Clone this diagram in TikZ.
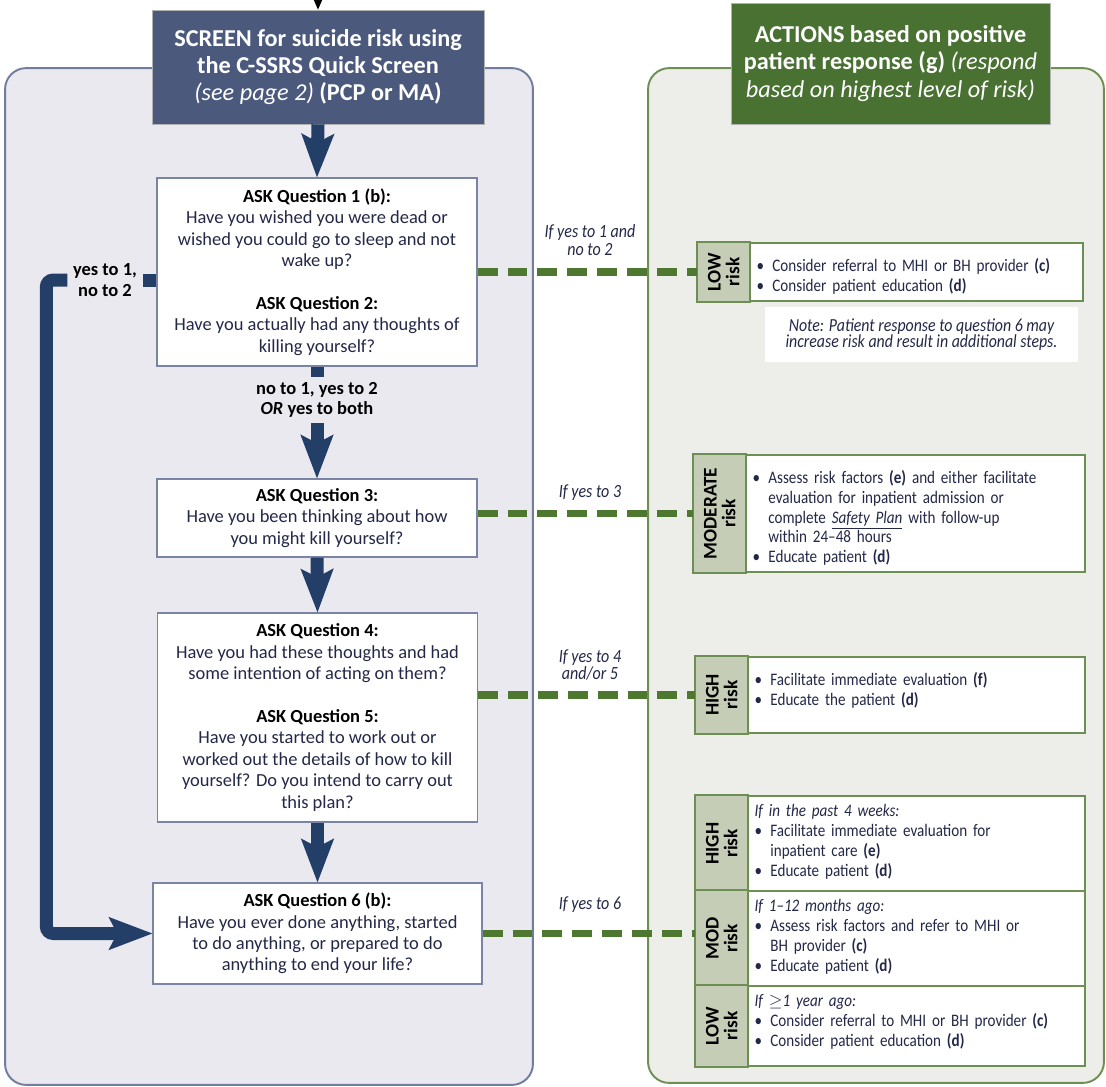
\documentclass[tikz,border=0pt]{standalone}
\usepackage{fontspec}
\setmainfont{Carlito}
\newfontfamily\narrowfont{Carlito}[FakeStretch=0.86, Ligatures=TeX]
\usepackage{tikz}
\usetikzlibrary{arrows.meta, positioning, calc}
\usepackage{xcolor}

\definecolor{screenblue}{RGB}{75,89,125}
\definecolor{flowblue}{RGB}{36,63,103}
\definecolor{panelgray}{RGB}{233,233,239}
\definecolor{panelline}{RGB}{112,125,158}
\definecolor{boxline}{RGB}{122,133,165}
\definecolor{actiongreen}{RGB}{73,113,50}
\definecolor{panelbeige}{RGB}{237,237,233}
\definecolor{greenline}{RGB}{110,143,84}
\definecolor{dashgreen}{RGB}{78,120,47}
\definecolor{riskgray}{RGB}{198,205,183}
\definecolor{textnavy}{RGB}{36,40,72}

\newcommand{\askq}[1]{{\color{black}\bfseries #1}}
\newcommand{\bul}[1]{\par\hangindent=9pt\noindent\hbox to 9pt{\textbullet\hss}#1}

\begin{document}
\begin{tikzpicture}[x=0.02cm, y=-0.02cm, >=Stealth,
  every node/.style={font=\fontsize{10.5}{12.2}\selectfont},
  panel/.style={line width=1.1pt, rounded corners=12pt},
  header/.style={draw=gray!60, text=white, align=center, inner sep=0pt,
    font=\fontsize{13.8}{15.6}\selectfont\bfseries},
  question/.style={draw=boxline, line width=0.8pt, fill=white, text=textnavy,
    align=center, inner sep=0pt, minimum width=6.4cm},
  flowlabel/.style={text=black, align=center, inner sep=3pt,
    font=\fontsize{10.5}{11.5}\selectfont\bfseries},
  flow/.style={flowblue, line width=7.4pt},
  flowarrow/.style={flow, -{Stealth[length=25pt, width=19pt, inset=5pt, line width=0pt]}},
  dashlink/.style={dashgreen, line width=4.5pt, dash pattern=on 11.3pt off 5.7pt},
  dashlabel/.style={text=textnavy, align=center, inner sep=0pt,
    font=\narrowfont\fontsize{10.6}{10}\selectfont\itshape},
  riskframe/.style={draw=greenline, line width=0.9pt, fill=white, inner sep=0pt},
  risklabel/.style={rotate=90, text=black, align=center, inner sep=0pt,
    font=\fontsize{11}{10.6}\selectfont\bfseries},
  risktext/.style={anchor=north west, text=textnavy, text width=6.6cm, align=left,
    inner sep=0pt, font=\narrowfont\fontsize{10}{11.3}\selectfont},
]
  % adjustable parameters
  \def\tagw{53}   % width of the risk tag column
  \useasboundingbox (0,0) rectangle (1106,1086);

  % the two panels
  \node[panel, draw=panelline, fill=panelgray, minimum width=10.56cm, minimum height=20.34cm]
    (screenpanel) at (269,576.5) {};
  \node[panel, draw=greenline, fill=panelbeige, minimum width=9.12cm, minimum height=20.3cm]
    (actionpanel) at (876,575.5) {};

  % headers
  \node[header, fill=screenblue, minimum width=6.64cm, minimum height=2.28cm] (screenhead) at (318,67)
    {SCREEN for suicide risk using\\the C-SSRS Quick Screen\\{\mdseries\itshape (see page 2)} (PCP or MA)};
  \node[header, fill=actiongreen, minimum width=6.38cm, minimum height=2.42cm] (actionhead) at (890.5,63.5)
    {ACTIONS based on positive\\patient response (g) {\mdseries\itshape (respond}\\{\mdseries\itshape based on highest level of risk)}};
  \coordinate (entry) at (318,-14);
  \draw[-{Stealth[length=7pt, width=6pt]}, line width=1.5pt] (entry) -- (screenhead.north);

  % questions
  \node[question, minimum height=3.76cm] (q1) at (317,272)
    {\askq{ASK Question 1 (b):}\\Have you wished you were dead or\\wished you could go to sleep and not\\wake up?\\[12pt]
     \askq{ASK Question 2:}\\Have you actually had any thoughts of\\killing yourself?};
  \node[question, minimum height=1.56cm] (q3) at (317,518)
    {\askq{ASK Question 3:}\\Have you been thinking about how\\you might kill yourself?};
  \node[question, minimum height=4.18cm] (q4) at (317.5,717.5)
    {\askq{ASK Question 4:}\\Have you had these thoughts and had\\some intention of acting on them?\\[12pt]
     \askq{ASK Question 5:}\\Have you started to work out or\\worked out the details of how to kill\\yourself? Do you intend to carry out\\this plan?};
  \node[question, minimum width=6.58cm, minimum height=2.02cm] (q6) at (317.5,933.5)
    {\askq{ASK Question 6 (b):}\\Have you ever done anything, started\\to do anything, or prepared to do\\anything to end your life?};

  % flow labels
  \node[flowlabel] (both) at (317,400) {no to 1, yes to 2\\\textit{OR} yes to both};
  \node[flowlabel] (skip) at (105,280) {yes to 1,\\no to 2};
  \path (q6.west) ++(-106,0) coordinate (loopbot);

  % flow arrows
  \draw[flowarrow] (screenhead.south) -- (q1.north);
  \draw[flow] (q1.south) -- (both.north);
  \draw[flowarrow] (both.south) -- (q3.north);
  \draw[flowarrow] (q3.south) -- (q4.north);
  \draw[flowarrow] (q4.south) -- (q6.north);
  \draw[flow] (q1.west |- skip.east) -- (skip.east);
  \draw[flowarrow, rounded corners=4pt] (skip.west) -| (loopbot) -- (q6.west);

  % risk boxes
  \node[riskframe, minimum width=7.7cm, minimum height=1.16cm] (lowbox) at (890.5,272) {};
  \node[riskframe, minimum width=7.82cm, minimum height=2.34cm] (modbox) at (889.5,513.5) {};
  \node[riskframe, minimum width=7.78cm, minimum height=1.52cm] (highbox) at (890.5,695) {};
  \node[riskframe, minimum width=7.78cm, minimum height=1.9cm] (pasthigh) at (890.5,843.5) {};
  \node[riskframe, minimum width=7.78cm, minimum height=1.9cm] (pastmod) at (890.5,938.5) {};
  \node[riskframe, minimum width=7.78cm, minimum height=1.6cm] (pastlow) at (890.5,1026) {};

  % tag columns
  \draw[riskframe, fill=riskgray] (lowbox.north west) rectangle ($(lowbox.south west)+(\tagw,0)$);
  \draw[riskframe, fill=riskgray] (modbox.north west) rectangle ($(modbox.south west)+(\tagw,0)$);
  \draw[riskframe, fill=riskgray] (highbox.north west) rectangle ($(highbox.south west)+(\tagw,0)$);
  \draw[riskframe, fill=riskgray] (pasthigh.north west) rectangle ($(pasthigh.south west)+(\tagw,0)$);
  \draw[riskframe, fill=riskgray] (pastmod.north west) rectangle ($(pastmod.south west)+(\tagw,0)$);
  \draw[riskframe, fill=riskgray] (pastlow.north west) rectangle ($(pastlow.south west)+(\tagw,0)$);
  \node[risklabel] (lowtag) at ($(lowbox.west)+(\tagw/2,0)$) {LOW\\risk};
  \node[risklabel] (modtag) at ($(modbox.west)+(\tagw/2,0)$) {MODERATE\\risk};
  \node[risklabel] (hightag) at ($(highbox.west)+(\tagw/2,0)$) {HIGH\\risk};
  \node[risklabel] (pasthightag) at ($(pasthigh.west)+(\tagw/2,0)$) {HIGH\\risk};
  \node[risklabel] (pastmodtag) at ($(pastmod.west)+(\tagw/2,0)$) {MOD\\risk};
  \node[risklabel] (pastlowtag) at ($(pastlow.west)+(\tagw/2,0)$) {LOW\\risk};

  % risk texts
  \node[risktext] (lowtxt) at ($(lowbox.north west)+(\tagw+6,9)$)
    {\bul{Consider referral to MHI or BH provider \textbf{(c)}}\bul{Consider patient education \textbf{(d)}}};
  \node[risktext] (modtxt) at ($(modbox.north west)+(\tagw+6,9)$)
    {\bul{Assess risk factors \textbf{(e)} and either facilitate\newline evaluation for inpatient admission or\newline
     complete \underline{\textit{Safety Plan}} with follow-up\newline within 24\textendash 48 hours}\bul{Educate patient \textbf{(d)}}};
  \node[risktext] (hightxt) at ($(highbox.north west)+(\tagw+6,9)$)
    {\bul{Facilitate immediate evaluation \textbf{(f)}}\bul{Educate the patient \textbf{(d)}}};
  \node[risktext] (pasthightxt) at ($(pasthigh.north west)+(\tagw+6,9)$)
    {\textit{If in the past 4 weeks:}\bul{Facilitate immediate evaluation for\newline inpatient care \textbf{(e)}}\bul{Educate patient \textbf{(d)}}};
  \node[risktext] (pastmodtxt) at ($(pastmod.north west)+(\tagw+6,9)$)
    {\textit{If 1\textendash 12 months ago:}\bul{Assess risk factors and refer to MHI or\newline BH provider \textbf{(c)}}\bul{Educate patient \textbf{(d)}}};
  \node[risktext] (pastlowtxt) at ($(pastlow.north west)+(\tagw+6,9)$)
    {\textit{If $\geq$1 year ago:}\bul{Consider referral to MHI or BH provider \textbf{(c)}}\bul{Consider patient education \textbf{(d)}}};

  % note under the low box
  \node[fill=white, text=textnavy, align=center, minimum width=6.26cm, minimum height=1.1cm,
    font=\narrowfont\fontsize{10.5}{9.5}\selectfont\itshape] (note) at (921.5,334.5)
    {Note: Patient response to question 6 may\\increase risk and result in additional steps.};

  % dashed links to the actions
  \draw[dashlink] (q1.east) -- (lowbox.west);
  \draw[dashlink] (q3.east |- modbox.west) -- (modbox.west);
  \draw[dashlink] (q4.east |- highbox.west) -- (highbox.west);
  \draw[dashlink] (q6.east) -- (q6.east -| pastmod.west);
  \node[dashlabel] (if12) at (590,240) {If yes to 1 and\\no to 2};
  \node[dashlabel] (if3) at (590,493) {If yes to 3};
  \node[dashlabel] (if45) at (590,665) {If yes to 4\\and/or 5};
  \node[dashlabel] (if6) at (590,905) {If yes to 6};
\end{tikzpicture}
\end{document}
